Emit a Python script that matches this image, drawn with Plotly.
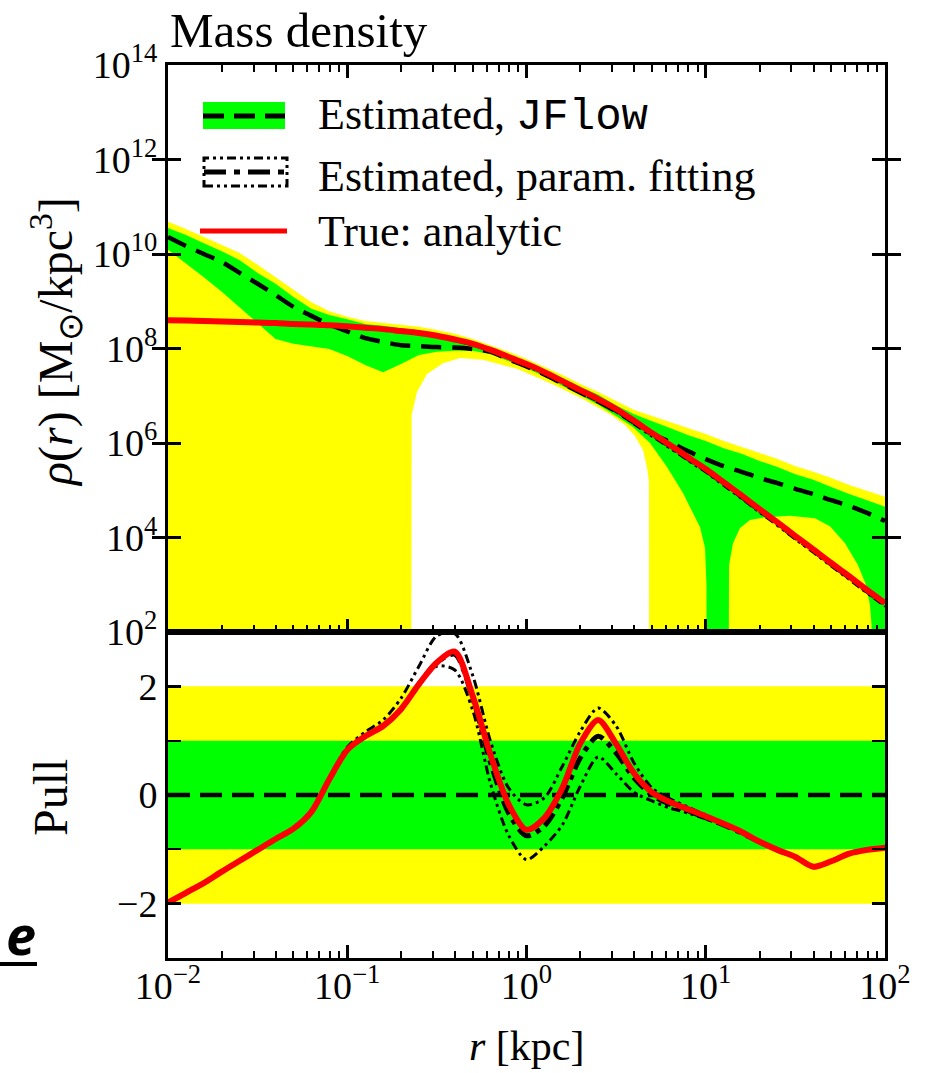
import numpy as np
import plotly.graph_objects as go

# ---------------------------------------------------------------- data
# radial grid, log10(r / kpc)
log_r = [-2.0, -1.9, -1.8, -1.7, -1.6, -1.5, -1.4, -1.3, -1.2, -1.1, -1.0,
         -0.9, -0.8, -0.7, -0.6, -0.5, -0.4, -0.3, -0.2, -0.1, 0.0,
         0.1, 0.2, 0.3, 0.4, 0.5, 0.6, 0.7, 0.8, 0.9, 1.0,
         1.1, 1.2, 1.3, 1.4, 1.5, 1.6, 1.7, 1.8, 1.9, 2.0]

# log10(rho / (Msun kpc^-3)) on the grid above
log_rho_true = [8.60, 8.59, 8.58, 8.57, 8.56, 8.55, 8.54, 8.52, 8.51, 8.49, 8.47,
                8.44, 8.41, 8.37, 8.33, 8.27, 8.19, 8.10, 7.97, 7.82, 7.67,
                7.50, 7.31, 7.12, 6.93, 6.72, 6.47, 6.21, 5.96, 5.70, 5.45,
                5.17, 4.89, 4.60, 4.32, 4.03, 3.75, 3.46, 3.18, 2.89, 2.61]
log_rho_jflow = [10.36, 10.17, 10.00, 9.83, 9.60, 9.37, 9.13, 8.88, 8.69, 8.51, 8.36,
                 8.22, 8.14, 8.07, 8.05, 8.03, 8.02, 7.99, 7.93, 7.77, 7.62,
                 7.45, 7.26, 7.07, 6.88, 6.67, 6.43, 6.20, 6.02, 5.83, 5.66,
                 5.51, 5.39, 5.26, 5.15, 5.03, 4.92, 4.79, 4.67, 4.52, 4.35]
log_rho_jflow_1s_hi = [10.55, 10.40, 10.23, 10.06, 9.87, 9.60, 9.37, 9.09, 8.84, 8.71, 8.62,
                       8.52, 8.48, 8.43, 8.39, 8.33, 8.24, 8.14, 8.01, 7.86, 7.71,
                       7.55, 7.38, 7.19, 7.02, 6.80, 6.61, 6.47, 6.32, 6.17, 6.04,
                       5.89, 5.77, 5.62, 5.49, 5.34, 5.22, 5.07, 4.92, 4.79, 4.65]
log_rho_jflow_2s_hi = [10.68, 10.53, 10.36, 10.19, 10.02, 9.77, 9.51, 9.24, 8.98, 8.79, 8.67,
                       8.58, 8.54, 8.50, 8.46, 8.39, 8.31, 8.20, 8.07, 7.93, 7.78,
                       7.61, 7.44, 7.25, 7.08, 6.89, 6.70, 6.57, 6.44, 6.32, 6.19,
                       6.04, 5.92, 5.79, 5.66, 5.51, 5.39, 5.26, 5.11, 4.98, 4.86]

# lower band edges have their own radial nodes; -3.0 marks "no lower bound"
log_r_1s_lo = [-2.0, -1.9, -1.8, -1.7, -1.6, -1.5, -1.4, -1.3, -1.2, -1.1, -1.0,
               -0.9, -0.8, -0.7, -0.6, -0.5, -0.4, -0.3, -0.2, -0.1, 0.0,
               0.1, 0.2, 0.3, 0.4, 0.5, 0.594, 0.689, 0.784, 0.873, 0.968,
               0.996, 1.004, 1.007, 1.124, 1.127, 1.130, 1.152, 1.191, 1.247, 1.331,
               1.470, 1.609, 1.693, 1.777, 1.849, 1.894, 1.916, 1.925, 1.927, 2.0]
log_rho_jflow_1s_lo = [10.09, 9.81, 9.51, 9.20, 8.88, 8.54, 8.20, 8.10, 8.05, 7.99, 7.84,
                       7.65, 7.50, 7.67, 7.86, 7.93, 7.95, 7.95, 7.88, 7.73, 7.58,
                       7.41, 7.21, 7.01, 6.81, 6.57, 6.34, 6.00, 5.49, 4.94, 4.22,
                       3.78, 3.00, -3.0, -3.0, 2.68, 3.42, 3.88, 4.20, 4.37, 4.43,
                       4.46, 4.41, 4.24, 3.88, 3.42, 3.00, 2.57, 2.15, -3.0, -3.0]
log_r_2s_lo = [-2.0, -0.644, -0.641, -0.611, -0.555, -0.466, -0.371, -0.243, -0.053,
               0.131, 0.315, 0.466, 0.550, 0.605, 0.650, 0.672, 0.683, 0.685, 2.0]
log_rho_jflow_2s_lo = [-3.0, -3.0, 6.59, 7.08, 7.46, 7.69, 7.80, 7.76, 7.57,
                       7.27, 6.93, 6.61, 6.38, 6.15, 5.85, 5.49, 5.18, -3.0, -3.0]

# parametric fit: best fit and its band edges
log_rho_param = [8.60, 8.59, 8.58, 8.57, 8.56, 8.55, 8.54, 8.52, 8.51, 8.49, 8.47,
                 8.44, 8.41, 8.37, 8.33, 8.27, 8.19, 8.10, 7.97, 7.82, 7.66,
                 7.49, 7.30, 7.10, 6.91, 6.69, 6.44, 6.18, 5.93, 5.67, 5.42,
                 5.14, 4.86, 4.57, 4.29, 4.00, 3.72, 3.43, 3.15, 2.86, 2.58]
log_rho_param_hi = [8.61, 8.60, 8.59, 8.58, 8.57, 8.56, 8.55, 8.53, 8.52, 8.50, 8.48,
                    8.45, 8.42, 8.38, 8.34, 8.28, 8.20, 8.11, 7.98, 7.83, 7.68,
                    7.51, 7.32, 7.13, 6.94, 6.73, 6.48, 6.22, 5.97, 5.71, 5.46,
                    5.18, 4.90, 4.61, 4.33, 4.04, 3.76, 3.47, 3.19, 2.90, 2.62]
log_rho_param_lo = [8.58, 8.57, 8.56, 8.55, 8.54, 8.53, 8.52, 8.50, 8.49, 8.47, 8.45,
                    8.42, 8.39, 8.35, 8.31, 8.25, 8.17, 8.07, 7.94, 7.79, 7.63,
                    7.45, 7.26, 7.06, 6.87, 6.66, 6.40, 6.14, 5.89, 5.63, 5.38,
                    5.10, 4.82, 4.53, 4.25, 3.96, 3.68, 3.39, 3.11, 2.82, 2.54]

# pulls relative to the JFlow estimate
pull_true = [-1.98, -1.80, -1.62, -1.41, -1.21, -1.01, -0.81, -0.62, -0.31, 0.29, 0.83,
             1.08, 1.27, 1.58, 2.04, 2.44, 2.64, 1.82, 0.73, -0.17, -0.64,
             -0.42, 0.13, 0.95, 1.38, 0.94, 0.40, 0.05, -0.13, -0.26, -0.39,
             -0.53, -0.68, -0.86, -1.01, -1.14, -1.32, -1.22, -1.08, -1.01, -0.97]
pull_param = [-1.98, -1.80, -1.62, -1.41, -1.21, -1.01, -0.81, -0.62, -0.31, 0.29, 0.83,
              1.08, 1.27, 1.58, 2.04, 2.44, 2.59, 1.78, 0.59, -0.33, -0.75,
              -0.57, -0.05, 0.68, 1.08, 0.77, 0.31, 0.00, -0.17, -0.29, -0.42,
              -0.55, -0.70, -0.86, -1.01, -1.14, -1.32, -1.22, -1.08, -1.01, -0.97]
pull_param_hi = [-1.98, -1.80, -1.62, -1.41, -1.21, -1.01, -0.81, -0.62, -0.28, 0.33, 0.88,
                 1.16, 1.38, 1.78, 2.37, 2.93, 2.97, 2.20, 0.98, 0.13, -0.18,
                 -0.05, 0.53, 1.17, 1.60, 1.27, 0.59, 0.13, -0.07, -0.22, -0.37,
                 -0.52, -0.68, -0.86, -1.01, -1.14, -1.32, -1.22, -1.08, -1.01, -0.97]
pull_param_lo = [-1.98, -1.80, -1.62, -1.41, -1.21, -1.01, -0.81, -0.62, -0.31, 0.29, 0.83,
                 1.08, 1.27, 1.58, 2.04, 2.37, 2.30, 1.56, 0.20, -0.74, -1.19,
                 -0.94, -0.55, 0.16, 0.70, 0.39, 0.05, -0.11, -0.24, -0.33, -0.44,
                 -0.56, -0.70, -0.86, -1.01, -1.14, -1.32, -1.22, -1.08, -1.01, -0.97]
pull_sigma_levels = [1, 2]

# axis ticks
r_tick_vals = [0.01, 0.1, 1, 10, 100]
r_tick_text = ["10<sup>\u22122</sup>", "10<sup>\u22121</sup>", "10<sup>0</sup>",
               "10<sup>1</sup>", "10<sup>2</sup>"]
rho_tick_vals = [1e2, 1e4, 1e6, 1e8, 1e10, 1e12, 1e14]
rho_tick_text = ["10<sup>2</sup>", "10<sup>4</sup>", "10<sup>6</sup>", "10<sup>8</sup>",
                 "10<sup>10</sup>", "10<sup>12</sup>", "10<sup>14</sup>"]
pull_tick_vals = [-2, 0, 2]
pull_tick_text = ["\u22122", "0", "2"]

# ---------------------------------------------------------------- styling
YELLOW = "#ffff00"
GREEN = "#00ff00"
RED = "#ff0000"
SERIF = "Liberation Serif"
MONO = "Liberation Mono"
DASH = "20px,11px"
DASHDOT = "15px,6px,5px,6px"
DASHDOTDOT = "9px,4px,3px,4px,3px,4px"

r = 10 ** np.array(log_r)


def rho(a):
    return 10 ** np.array(a)


fig = go.Figure()

# density panel: 2-sigma and 1-sigma bands as closed polygons
r_2lo = 10 ** np.array(log_r_2s_lo)
r_1lo = 10 ** np.array(log_r_1s_lo)
fig.add_trace(go.Scatter(
    x=np.concatenate([r, r_2lo[::-1]]),
    y=np.concatenate([rho(log_rho_jflow_2s_hi), rho(log_rho_jflow_2s_lo)[::-1]]),
    fill="toself", fillcolor=YELLOW, mode="lines", line=dict(width=0),
    hoverinfo="skip", xaxis="x", yaxis="y"))
fig.add_trace(go.Scatter(
    x=np.concatenate([r, r_1lo[::-1]]),
    y=np.concatenate([rho(log_rho_jflow_1s_hi), rho(log_rho_jflow_1s_lo)[::-1]]),
    fill="toself", fillcolor=GREEN, mode="lines", line=dict(width=0),
    hoverinfo="skip", xaxis="x", yaxis="y"))

line_kw = dict(mode="lines", xaxis="x", yaxis="y")
fig.add_trace(go.Scatter(x=r, y=rho(log_rho_jflow),
                         line=dict(color="black", width=4.5, dash=DASH,
                                   shape="spline", smoothing=0.8), **line_kw))
for arr in (log_rho_param_hi, log_rho_param_lo):
    fig.add_trace(go.Scatter(x=r, y=rho(arr),
                             line=dict(color="black", width=2.5, dash=DASHDOTDOT,
                                       shape="spline", smoothing=0.8), **line_kw))
fig.add_trace(go.Scatter(x=r, y=rho(log_rho_param),
                         line=dict(color="black", width=4.5, dash=DASHDOT,
                                   shape="spline", smoothing=0.8), **line_kw))
fig.add_trace(go.Scatter(x=r, y=rho(log_rho_true),
                         line=dict(color=RED, width=6, shape="spline", smoothing=0.8),
                         **line_kw))

# pull panel
r_span = [r[0], r[-1]]
for level, colour in ((pull_sigma_levels[1], YELLOW), (pull_sigma_levels[0], GREEN)):
    fig.add_trace(go.Scatter(x=r_span + r_span[::-1], y=[level, level, -level, -level],
                             fill="toself", fillcolor=colour, mode="lines",
                             line=dict(width=0), hoverinfo="skip",
                             xaxis="x2", yaxis="y2"))
pull_kw = dict(mode="lines", xaxis="x2", yaxis="y2")
fig.add_trace(go.Scatter(x=r_span, y=[0, 0],
                         line=dict(color="black", width=4.5, dash="22px,10px"), **pull_kw))
for arr in (pull_param_hi, pull_param_lo):
    fig.add_trace(go.Scatter(x=r, y=arr,
                             line=dict(color="black", width=3, dash=DASHDOTDOT,
                                       shape="spline", smoothing=0.8), **pull_kw))
fig.add_trace(go.Scatter(x=r, y=pull_param,
                         line=dict(color="black", width=5, dash=DASHDOT,
                                   shape="spline", smoothing=0.8), **pull_kw))
fig.add_trace(go.Scatter(x=r, y=pull_true,
                         line=dict(color=RED, width=6, shape="spline", smoothing=0.8),
                         **pull_kw))

# empty traces so the overlay tick axes are laid out
for xa, ya in (("x3", "y"), ("x5", "y"), ("x4", "y2"), ("x6", "y2")):
    fig.add_trace(go.Scatter(x=[], y=[], xaxis=xa, yaxis=ya, hoverinfo="skip"))

# ---------------------------------------------------------------- layout
W, H = 928, 1073
L, R, T, B = 168, 885, 65, 958
split = (B - 632) / (B - T)


def fx(px):
    return (px - L) / (R - L)


def fy(py):
    return (B - py) / (B - T)


tick_font = dict(family=SERIF, size=38, color="black")
# data axes carry the frame and the labels; overlay axes carry decade / sub-decade ticks
frame_x = dict(type="log", range=[-2, 2], showgrid=False, zeroline=False,
               showline=True, linecolor="black", linewidth=3, ticks="",
               tickmode="array", tickvals=r_tick_vals, ticktext=r_tick_text,
               tickfont=tick_font)
decade_x = dict(type="log", range=[-2, 2], showgrid=False, zeroline=False,
                showline=False, ticks="inside", ticklen=13, tickwidth=2.5,
                tickcolor="black", tickmode="linear", tick0=0, dtick=1,
                showticklabels=False, side="bottom")
sub_x = dict(type="log", range=[-2, 2], showgrid=False, zeroline=False,
             showline=False, ticks="inside", ticklen=7, tickwidth=2,
             tickcolor="black", dtick="D1", showticklabels=False, side="bottom")
major_y = dict(showgrid=False, zeroline=False, showline=True, linecolor="black",
               linewidth=3, ticks="inside", ticklen=13, tickwidth=2.5,
               tickcolor="black", mirror="allticks", ticklabelstandoff=0,
               tickfont=tick_font, tickmode="array")

fig.update_layout(
    width=W, height=H, autosize=False,
    margin=dict(l=L, r=W - R, t=T, b=H - B, pad=0),
    paper_bgcolor="white", plot_bgcolor="white", showlegend=False,
    xaxis=dict(anchor="y", domain=[0, 1], showticklabels=False, mirror=True,
               **frame_x),
    xaxis3=dict(anchor="y", overlaying="x", mirror="allticks", **decade_x),
    xaxis5=dict(anchor="y", overlaying="x", mirror="allticks", **sub_x),
    xaxis2=dict(anchor="y2", domain=[0, 1], showticklabels=True, mirror=True,
                ticklabelstandoff=-8, **frame_x),
    xaxis4=dict(anchor="y2", overlaying="x2", **decade_x),
    xaxis6=dict(anchor="y2", overlaying="x2", **sub_x),
    yaxis=dict(anchor="x", domain=[split, 1], type="log", range=[2, 14],
               tickvals=rho_tick_vals, ticktext=rho_tick_text, **major_y),
    yaxis2=dict(anchor="x2", domain=[0, split], range=[-3, 3],
                tickvals=pull_tick_vals, ticktext=pull_tick_text,
                minor=dict(ticks="inside", ticklen=7, tickwidth=2, tickcolor="black",
                           tick0=0, dtick=1),
                **major_y),
)

text_font = dict(family=SERIF, size=44, color="black")
annotations = [
    dict(text="Mass density", x=fx(168), y=fy(31), xanchor="left", yanchor="middle",
         font=dict(family=SERIF, size=49, color="black")),
    dict(text="<i>\u03c1</i>(<i>r</i>) [M<sub>\u2299</sub>/kpc<sup>3</sup>]",
         x=fx(56), y=fy(342), textangle=-90, xanchor="center", yanchor="middle",
         font=dict(family=SERIF, size=48, color="black")),
    dict(text="Pull", x=fx(50), y=fy(797), textangle=-90, xanchor="center",
         yanchor="middle", font=dict(family=SERIF, size=48, color="black")),
    dict(text="<i>r</i> [kpc]", x=fx(526), y=fy(1046), xanchor="center",
         yanchor="middle", font=dict(family=SERIF, size=42, color="black")),
    dict(text="e", x=fx(21), y=fy(934), xanchor="center", yanchor="middle",
         font=dict(family="Noto Sans", size=54, color="black", style="italic",
                   weight="bold")),
    dict(text=f"Estimated, <span style='font-family:{MONO}'>JFlow</span>",
         x=fx(316), y=fy(116), xanchor="left", yanchor="middle", font=text_font),
    dict(text="Estimated, param. fitting", x=fx(316), y=fy(176), xanchor="left",
         yanchor="middle", font=text_font),
    dict(text="True: analytic", x=fx(316), y=fy(232), xanchor="left",
         yanchor="middle", font=text_font),
]
for a in annotations:
    a.update(xref="paper", yref="paper", showarrow=False)
fig.update_layout(annotations=annotations)

# legend keys and the underline beneath the margin glyph
shapes = [
    dict(type="rect", x0=fx(203), x1=fx(285), y0=fy(129), y1=fy(102),
         fillcolor=GREEN, line=dict(width=0)),
    dict(type="line", x0=fx(203), x1=fx(285), y0=fy(116), y1=fy(116),
         line=dict(color="black", width=5, dash="21px,10px")),
    dict(type="rect", x0=fx(204), x1=fx(287), y0=fy(186), y1=fy(158),
         line=dict(color="black", width=3, dash=DASHDOTDOT)),
    dict(type="line", x0=fx(204), x1=fx(287), y0=fy(172), y1=fy(172),
         line=dict(color="black", width=5, dash="22px,8px,6px,8px")),
    dict(type="line", x0=fx(200), x1=fx(287), y0=fy(231), y1=fy(231),
         line=dict(color=RED, width=5)),
    dict(type="line", x0=fx(0), x1=fx(37), y0=fy(964), y1=fy(964),
         line=dict(color="black", width=4)),
]
for s in shapes:
    s.update(xref="paper", yref="paper", layer="above")
fig.update_layout(shapes=shapes)

fig.write_html("out.html")
